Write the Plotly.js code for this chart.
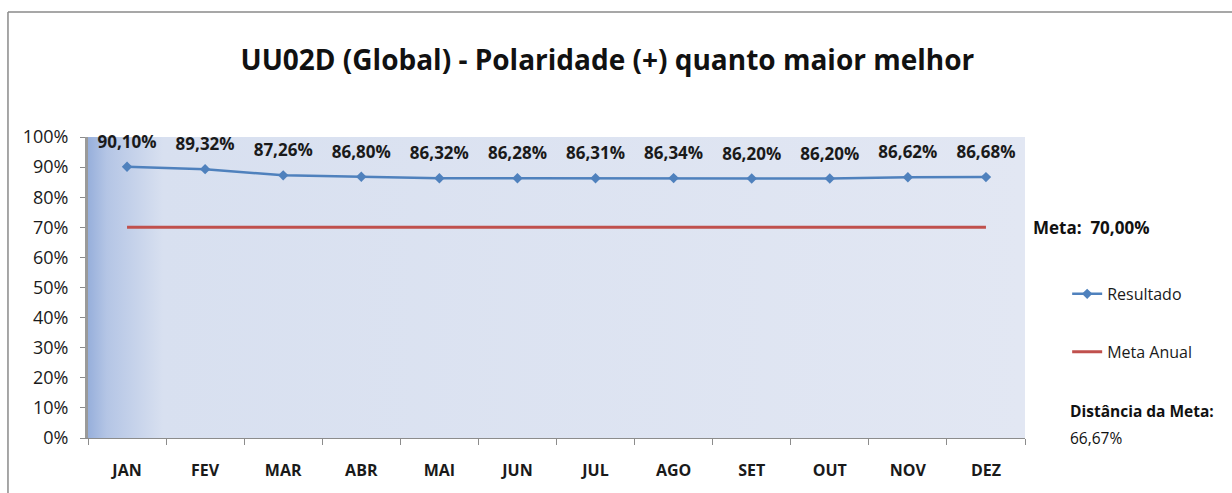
<!DOCTYPE html>
<html>
<head>
<meta charset="utf-8">
<script src="https://cdn.plot.ly/plotly-3.0.1.min.js"></script>
<style>
html,body{margin:0;padding:0;background:#fff;}
#chart{width:1232px;height:493px;}
</style>
</head>
<body>
<div id="chart"></div>
<script>
const months = ["JAN","FEV","MAR","ABR","MAI","JUN","JUL","AGO","SET","OUT","NOV","DEZ"];
const resultado = [90.10, 89.32, 87.26, 86.80, 86.32, 86.28, 86.31, 86.34, 86.20, 86.20, 86.62, 86.68];
const metaAnual = [70, 70, 70, 70, 70, 70, 70, 70, 70, 70, 70, 70];
const metaLabel = "Meta:  70,00%";
const distLabel = "Distância da Meta:";
const distValue = "66,67%";
const yTicks = [0,10,20,30,40,50,60,70,80,90,100];

const FONT = "'Open Sans', 'Noto Sans', sans-serif";

const gradSvg = '<svg xmlns="http://www.w3.org/2000/svg" width="100" height="100" preserveAspectRatio="none">' +
  '<defs><linearGradient id="g" x1="0" y1="0" x2="1" y2="0">' +
  '<stop offset="0" stop-color="#97afdb"/><stop offset="0.02" stop-color="#b4c5e5"/><stop offset="0.08" stop-color="#d8e0f0"/><stop offset="1" stop-color="#e2e7f3"/>' +
  '</linearGradient></defs><rect width="100" height="100" fill="url(#g)"/></svg>';
const gradUrl = 'data:image/svg+xml;base64,' + btoa(gradSvg);

const traces = [
  {
    x: months, y: resultado, name: "Resultado", type: "scatter", mode: "lines+markers",
    line: {color: "#4f81bd", width: 2.5},
    marker: {symbol: "diamond", size: 8, color: "#4f81bd"},
    legendgroup: "a", hoverinfo: "x+y"
  },
  {
    x: months, y: resultado, name: "Resultado rótulos", type: "scatter", mode: "markers+text",
    marker: {size: 22, color: "rgba(0,0,0,0)"},
    texttemplate: "%{y:.2f}%", textposition: "top center",
    textfont: {family: FONT, size: 17, color: "#1a1a1a", weight: "bold"},
    cliponaxis: false, showlegend: false, hoverinfo: "skip"
  },
  {
    x: months, y: metaAnual, name: "Meta Anual", type: "scatter", mode: "lines",
    line: {color: "#c0504d", width: 3},
    legendgroup: "b", hoverinfo: "x+y"
  }
];

const layout = {
  width: 1232, height: 493,
  margin: {l: 88, r: 207, t: 137, b: 55},
  paper_bgcolor: "#ffffff",
  plot_bgcolor: "#e2e7f3",
  separators: ",.",
  font: {family: FONT, color: "#1a1a1a"},
  title: {
    text: "UU02D (Global) - Polaridade (+) quanto maior melhor",
    font: {family: FONT, size: 28, color: "#111", weight: "bold"},
    x: 0.493, xref: "container", xanchor: "center", y: 0.878, yanchor: "middle"
  },
  xaxis: {
    type: "category", range: [-0.5, 11.5], autorange: false,
    showgrid: false, zeroline: false,
    showline: true, linecolor: "#8c8c8c", linewidth: 1,
    ticks: "outside", tickson: "boundaries", ticklen: 6, tickcolor: "#8c8c8c",
    tickfont: {family: FONT, size: 16, color: "#1a1a1a", weight: "bold"},
    ticklabelstandoff: 18
  },
  yaxis: {
    range: [0, 100], autorange: false, tickvals: yTicks, ticktext: yTicks.map(v => v + "%"),
    showgrid: false, zeroline: false,
    showline: true, linecolor: "#9a9a9a", linewidth: 3,
    ticks: "outside", ticklen: 5, tickcolor: "#8c8c8c",
    tickfont: {family: FONT, size: 18, color: "#1a1a1a"},
    ticklabelstandoff: 8
  },
  showlegend: true,
  legend: {
    x: 1.045, y: 0.535, xanchor: "left", yanchor: "top",
    traceorder: "grouped", tracegroupgap: 34,
    font: {family: FONT, size: 16, color: "#1a1a1a"},
    bgcolor: "rgba(0,0,0,0)", itemwidth: 30
  },
  images: [{
    source: gradUrl, xref: "paper", yref: "paper", x: 0, y: 1, sizex: 1, sizey: 1,
    sizing: "stretch", layer: "below", xanchor: "left", yanchor: "top"
  }],
  annotations: [
    {text: metaLabel, xref: "paper", yref: "paper", x: 1.006, y: 0.70,
     xanchor: "left", yanchor: "middle", showarrow: false, font: {family: FONT, size: 17, color: "#111", weight: "bold"}},
    {text: distLabel, xref: "paper", yref: "paper", x: 1.046, y: 0.09,
     xanchor: "left", yanchor: "middle", showarrow: false, font: {family: FONT, size: 15.5, color: "#111", weight: "bold"}},
    {text: distValue, xref: "paper", yref: "paper", x: 1.046, y: 0.0,
     xanchor: "left", yanchor: "middle", showarrow: false, font: {family: FONT, size: 15.5, color: "#111"}}
  ],
  shapes: [
    {type: "line", xref: "paper", yref: "paper", x0: -0.0854, x1: -0.0854, y0: 1.415, y1: -0.2,
     line: {color: "#8a8a8a", width: 1.5}},
    {type: "line", xref: "paper", yref: "paper", x0: -0.0854, x1: 1.25, y0: 1.415, y1: 1.415,
     line: {color: "#8a8a8a", width: 1.5}}
  ]
};

Plotly.newPlot("chart", traces, layout, {displayModeBar: false, staticPlot: true});
</script>
</body>
</html>
